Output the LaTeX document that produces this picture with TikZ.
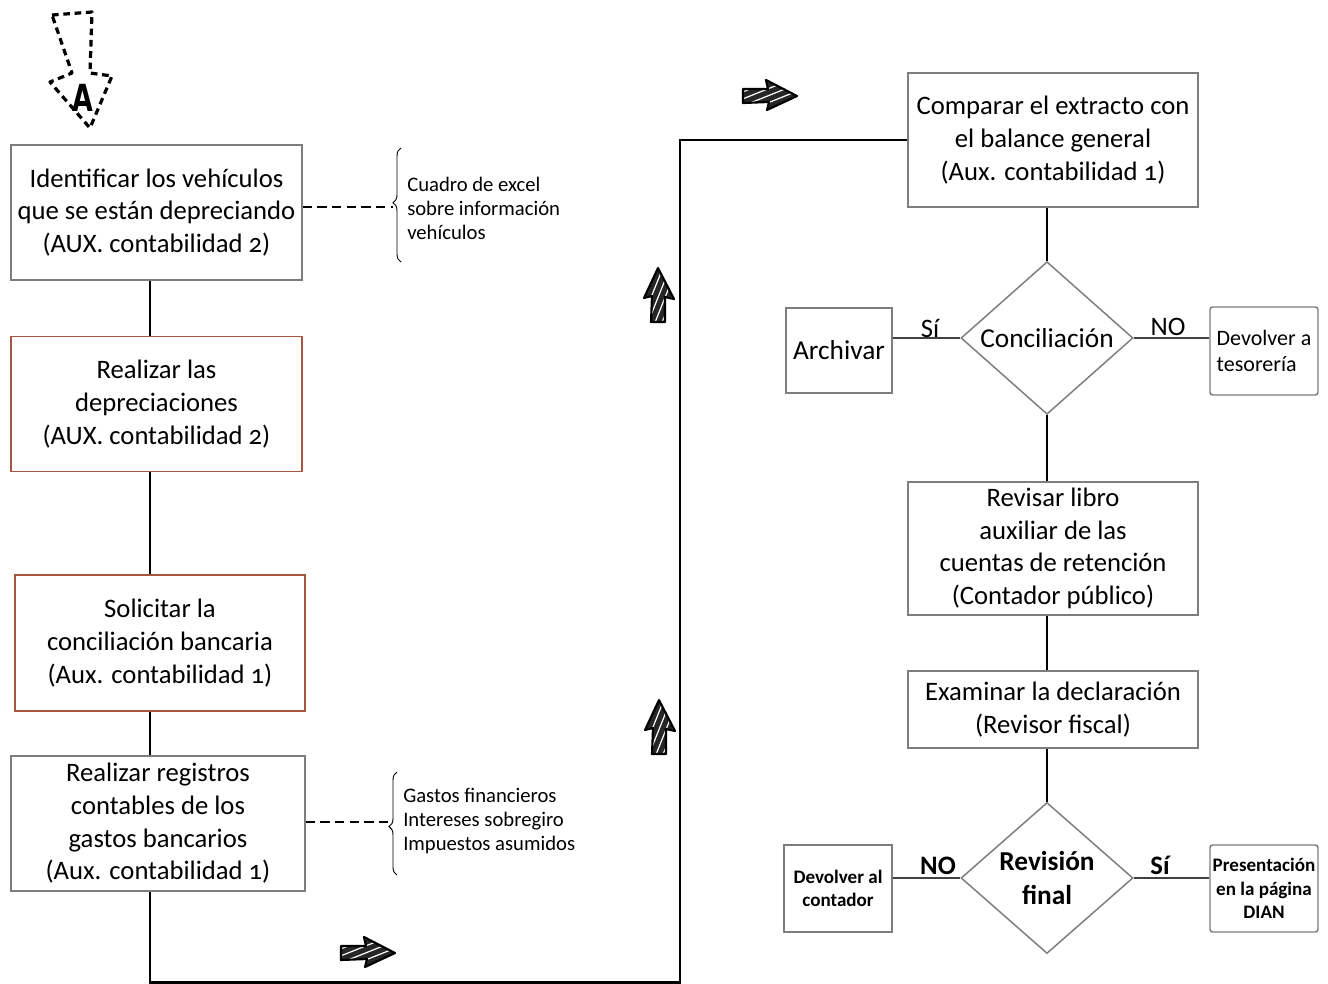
\documentclass[tikz,border=0pt]{standalone}
\usepackage{fontspec}
\setmainfont{Carlito}[Numbers=OldStyle]
\newfontfamily\heavyfont{DejaVu Sans}
\usetikzlibrary{shapes.geometric,decorations.pathreplacing}
\definecolor{boxgray}{RGB}{125,125,125}
\definecolor{boxred}{RGB}{165,85,65}
\tikzset{
  box/.style={draw=boxgray, line width=1.1pt, fill=white, align=center, inner sep=0pt,
    font=\fontsize{20}{24.5}\selectfont},
  redbox/.style={box, draw=boxred},
  smallbox/.style={box, font=\fontsize{16.5}{19}\selectfont},
  boldbox/.style={box, font=\fontsize{14.3}{17.5}\selectfont\bfseries},
  dia/.style={draw=boxgray, line width=1.1pt, shape=diamond, inner sep=0pt, align=center,
    minimum width=129pt, minimum height=113.25pt},
  flow/.style={line width=1.9pt},
  side/.style={draw=black!75, line width=0.9pt},
  bracetxt/.style={align=left, anchor=west, inner sep=0pt, font=\fontsize{15.5}{18}\selectfont},
  lab/.style={inner sep=0pt, font=\fontsize{20}{22}\selectfont},
  harrow/.pic={
    \begin{scope}
      \clip (-27,-6) -- (-2,-6) -- (-4,-15) -- (27,1) -- (-3,15) -- (-1,7) -- (-27,8) -- cycle;
      \fill[black!85] (-30,-20) rectangle (30,20);
      \foreach \j in {-35,-28,...,35} \draw[white, line width=0.9pt] (-30,\j+12) -- (30,\j-12);
    \end{scope}
    \draw[black, line width=1.6pt, line join=round] (-27,-6) -- (-2,-6) -- (-4,-15) -- (27,1) -- (-3,15) -- (-1,7) -- (-27,8) -- cycle;
  }
}
\begin{document}
\begin{tikzpicture}[x=0.75pt, y=-0.75pt]
\useasboundingbox[fill=white] (0,0) rectangle (1328,983);

% start marker A
\draw[line width=2.4pt, dash pattern=on 5pt off 3.5pt, line join=round]
  (52,15) -- (92,12) -- (90,73) -- (112,76) -- (90,128) -- (50,82) -- (72,73) -- cycle;
\node[inner sep=0pt, font=\fontsize{28}{28}\heavyfont\bfseries] (A) at (83,98) {\scalebox{0.72}[1]{A}};

% left column
\node[box, minimum width=218.25pt, minimum height=101.25pt] (b1) at (156.5,212.5)
  {Identificar los vehículos\\que se están depreciando\\(AUX. contabilidad 2)};
\node[redbox, minimum width=218.25pt, minimum height=101.25pt] (b2) at (156.5,404)
  {Realizar las\\depreciaciones\\(AUX. contabilidad 2)};
\node[redbox, minimum width=217.5pt, minimum height=102pt] (b3) at (160,643)
  {Solicitar la\\conciliación bancaria\\(Aux. contabilidad 1)};
\node[box, minimum width=220.5pt, minimum height=101.25pt] (b4) at (158,823.5)
  {Realizar registros\\contables de los\\gastos bancarios\\(Aux. contabilidad 1)};

\coordinate (xl) at (150,0);
\coordinate (xr) at (680,0);
\draw[flow] (b1.south -| xl) -- (b2.north -| xl);
\draw[flow] (b2.south -| xl) -- (b3.north -| xl);
\draw[flow] (b3.south -| xl) -- (b4.north -| xl);

% annotation braces
\coordinate (br1) at (393,207);
\draw[line width=0.8pt, dash pattern=on 7pt off 4pt] (b1.east |- br1) -- (br1);
\draw[line width=0.7pt, decorate, decoration={brace, amplitude=6pt, aspect=0.52}] (401,262) -- (401,148);
\node[bracetxt] (t1) at (407,208) {Cuadro de excel\\sobre información\\vehículos};

\coordinate (br2) at (388,822);
\draw[line width=0.8pt, dash pattern=on 7pt off 4pt] (b4.east |- br2) -- (br2);
\draw[line width=0.7pt, decorate, decoration={brace, amplitude=6pt, aspect=0.47}] (397,875) -- (397,772);
\node[bracetxt] (t2) at (403,821) {Gastos financieros\\Intereses sobregiro\\Impuestos asumidos};

% right column
\node[box, minimum width=217.5pt, minimum height=100.5pt] (b5) at (1053,140)
  {Comparar el extracto con\\el balance general\\(Aux. contabilidad 1)};
\node[dia, font=\fontsize{20.5}{22}\selectfont] (d1) at (1047,338) {Conciliación};
\node[box, font=\fontsize{20.5}{24}\selectfont, minimum width=79.5pt, minimum height=63.75pt] (arch) at (839,350.5) {Archivar};
\node[smallbox, minimum width=81pt, minimum height=66pt, rounded corners=2pt, align=left] (dev1) at (1264,351) {Devolver a\\tesorería};
\node[box, minimum width=217.5pt, minimum height=99.75pt] (b6) at (1053,548.5)
  {Revisar libro\\auxiliar de las\\cuentas de retención\\(Contador público)};
\node[box, minimum width=217.5pt, minimum height=57.75pt] (b7) at (1053,709.5)
  {Examinar la declaración\\(Revisor fiscal)};
\node[dia, font=\fontsize{20.5}{25}\selectfont\bfseries] (d2) at (1047,878) {Revisión\\final};
\node[boldbox, minimum width=81pt, minimum height=65.25pt] (dev2) at (838,888.5) {Devolver al\\contador};
\node[boldbox, minimum width=81pt, minimum height=65.25pt, rounded corners=2pt] (pres) at (1264,888.5) {Presentación\\en la página\\DIAN};

% main flow
\draw[flow] (b4.south -| xl) -- ++(0,91) coordinate (c1) -- (c1 -| xr) -- (xr |- b5.west) -- (b5.west);
\draw[flow] (b5.south -| d1.north) -- (d1.north);
\draw[flow] (d1.south) -- (b6.north -| d1.south);
\draw[flow] (b6.south -| d1.south) -- (b7.north -| d1.south);
\draw[flow] (b7.south -| d2.north) -- (d2.north);

% decision branches
\draw[side] (d1.west) -- (arch.east |- d1.west);
\draw[side] (d1.east) -- (dev1.west |- d1.east);
\draw[side] (d2.west) -- (dev2.east |- d2.west);
\draw[side] (d2.east) -- (pres.west |- d2.east);
\node[lab] (si1) at (930,328) {Sí};
\node[lab] (no1) at (1168,327) {NO};
\node[lab, font=\fontsize{20}{22}\selectfont\bfseries] (no2) at (938,866) {NO};
\node[lab, font=\fontsize{20}{22}\selectfont\bfseries] (si2) at (1160,865) {Sí};

% hatched direction arrows
\pic at (368,952) {harrow};
\pic at (770,95) {harrow};
\pic[rotate=90, yscale=-1] at (659,295) {harrow};
\pic[rotate=90, yscale=-1] at (660,727) {harrow};
\end{tikzpicture}
\end{document}
